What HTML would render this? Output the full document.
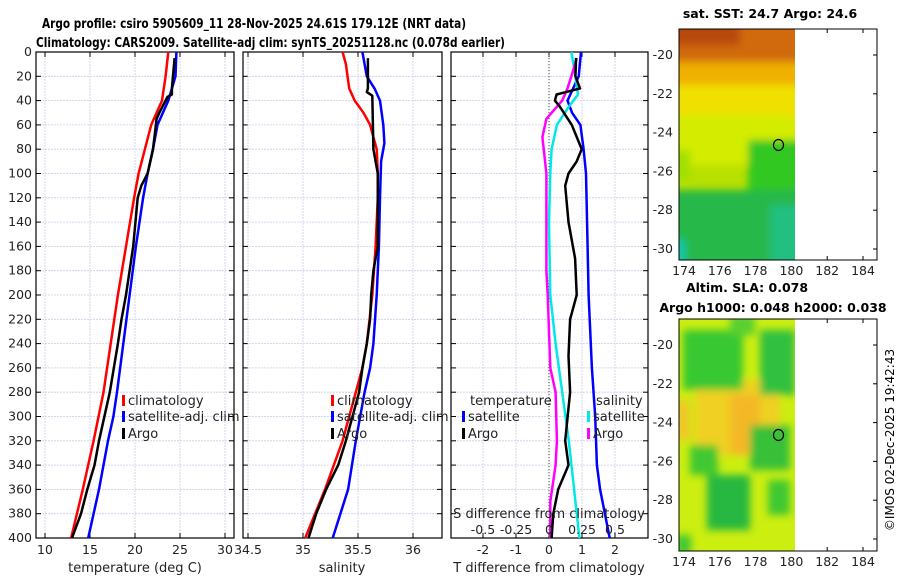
<!DOCTYPE html>
<html><head><meta charset="utf-8"><style>
body{margin:0;background:#fff;width:900px;height:580px;overflow:hidden}
svg{font-family:"DejaVu Sans","Liberation Sans",sans-serif}
</style></head><body>
<svg id="c" width="900" height="580" viewBox="0 0 900 580" xmlns="http://www.w3.org/2000/svg">
<defs>
<filter id="bl" filterUnits="userSpaceOnUse" x="640" y="0" width="200" height="580"><feGaussianBlur stdDeviation="4"/></filter>
<clipPath id="m1c"><rect x="679" y="29" width="116" height="231"/></clipPath>
<clipPath id="m2c"><rect x="679" y="319" width="116" height="232"/></clipPath>
</defs>
<text x="42" y="28" font-size="13.5" font-weight="bold" textLength="424" lengthAdjust="spacingAndGlyphs">Argo profile: csiro 5905609_11 28-Nov-2025 24.61S 179.12E (NRT data)</text>
<text x="36" y="47" font-size="13.5" font-weight="bold" textLength="469" lengthAdjust="spacingAndGlyphs">Climatology: CARS2009. Satellite-adj clim: synTS_20251128.nc (0.078d earlier)</text>
<g id="g"></g>
<g>
<text x="770" y="18" text-anchor="middle" font-size="12.5" font-weight="bold">sat. SST: 24.7 Argo: 24.6</text>
<g clip-path="url(#m1c)">
<rect x="679" y="29" width="116" height="231" fill="#b8e000"/>
<g filter="url(#bl)">
<rect x="660" y="80" width="150" height="40" fill="#f0e000"/>
<rect x="660" y="115" width="150" height="50" fill="#d4ec00"/>
<rect x="660" y="55" width="150" height="30" fill="#f0b000"/>
<rect x="660" y="20" width="150" height="42" fill="#d06a10"/>
<rect x="660" y="20" width="80" height="25" fill="#b84a08"/>
<rect x="660" y="150" width="30" height="30" fill="#a0e000"/>
<rect x="748" y="140" width="60" height="130" fill="#30c820"/>
<rect x="660" y="190" width="150" height="80" fill="#28b848"/>
<rect x="660" y="240" width="25" height="30" fill="#10c8b0"/>
<rect x="770" y="205" width="40" height="60" fill="#20c080"/>
</g>
</g>
<rect x="679" y="29" width="198" height="231" fill="none" stroke="#000"/>
<ellipse cx="778.5" cy="145" rx="5" ry="5.5" fill="none" stroke="#000" stroke-width="1.2"/>
</g>
<g>
<text x="747" y="292" text-anchor="middle" font-size="12.5" font-weight="bold">Altim. SLA: 0.078</text>
<text x="773" y="312" text-anchor="middle" font-size="12.5" font-weight="bold">Argo h1000: 0.048 h2000: 0.038</text>
<g clip-path="url(#m2c)">
<rect x="679" y="319" width="116" height="232" fill="#ccee10"/>
<g filter="url(#bl)">
<rect x="695" y="380" width="85" height="75" fill="#f0d020"/>
<rect x="730" y="395" width="30" height="60" fill="#f4b828"/>
<rect x="675" y="400" width="15" height="40" fill="#f0c828"/>
<rect x="683" y="330" width="60" height="60" fill="#38c830"/>
<rect x="760" y="330" width="35" height="65" fill="#30c040"/>
<rect x="730" y="315" width="25" height="20" fill="#58d030"/>
<rect x="707" y="475" width="43" height="55" fill="#28b840"/>
<rect x="690" y="445" width="28" height="30" fill="#40c830"/>
<rect x="750" y="425" width="40" height="45" fill="#38c038"/>
<rect x="768" y="480" width="22" height="35" fill="#40c830"/>
<rect x="676" y="535" width="15" height="20" fill="#40c830"/>
</g>
</g>
<rect x="679" y="319" width="198" height="232" fill="none" stroke="#000"/>
<ellipse cx="778.5" cy="435" rx="5" ry="5.5" fill="none" stroke="#000" stroke-width="1.2"/>
</g>
<text transform="translate(894,440) rotate(-90)" text-anchor="middle" font-size="12">©IMOS 02-Dec-2025 19:42:43</text>
</svg>
<script>
// ---- data ----
const tDepth=[0,20,40,60,80,100,120,160,200,240,280,320,360,400];
const tClim=[23.7,23.4,23.0,21.8,21.1,20.4,19.9,19.0,18.1,17.3,16.5,15.4,14.2,12.9];
const tSatDepth=[0,20,40,60,80,100,120,160,200,240,280,300,320,360,400];
const tSat=[24.6,24.5,23.7,22.5,22.0,21.4,20.9,20.1,19.4,18.7,18.0,17.6,17.0,16.0,14.8];
const tArgoDepth=[5,30,35,37,50,55,80,100,110,120,160,200,220,240,280,320,340,360,380,400];
const tArgo=[24.4,24.1,24.1,23.6,22.7,22.4,22.0,21.4,20.7,20.3,19.8,19.0,18.5,18.1,17.2,16.0,15.5,14.7,14.0,13.0];
const sClimDepth=[0,10,30,40,50,60,80,100,120,160,200,240,260,280,320,360,400];
const sClim=[35.36,35.39,35.42,35.47,35.55,35.61,35.67,35.68,35.68,35.66,35.63,35.58,35.54,35.48,35.36,35.20,35.02];
const sSatDepth=[0,20,30,40,60,75,90,120,160,200,240,260,280,320,360,400];
const sSat=[35.54,35.58,35.65,35.70,35.73,35.74,35.71,35.70,35.69,35.67,35.64,35.61,35.56,35.48,35.41,35.27];
const sArgoDepth=[5,30,33,36,80,90,100,160,180,200,220,240,260,280,320,340,360,380,400];
const sArgo=[35.59,35.59,35.58,35.63,35.64,35.66,35.68,35.68,35.64,35.62,35.61,35.58,35.54,35.51,35.39,35.32,35.21,35.12,35.05];
const dSatTDepth=[0,20,40,50,60,80,100,160,200,260,300,340,360,400];
const dSatT=[0.97,0.9,0.56,0.7,0.95,1.05,1.12,1.17,1.2,1.3,1.4,1.45,1.55,1.84];
const dArgoTDepth=[5,20,30,35,40,45,60,80,90,100,110,140,170,200,220,250,280,320,340,360,380,400];
const dArgoT=[0.82,0.8,0.94,0.23,0.18,0.33,0.69,0.99,0.84,0.59,0.49,0.59,0.79,0.84,0.64,0.59,0.64,0.49,0.59,0.28,0.13,0.08];
const dSatSDepth=[0,20,35,45,60,80,100,140,200,240,280,320,360,400];
const dSatS=[0.17,0.2,0.22,0.15,0.06,0.02,0.01,0.0,0.01,0.05,0.1,0.15,0.19,0.23];
const dArgoSDepth=[5,20,30,40,55,70,100,140,180,200,260,280,320,340,370,400];
const dArgoS=[0.21,0.17,0.14,0.1,-0.02,-0.05,-0.02,-0.02,-0.02,-0.01,0.01,0.05,0.06,0.05,0.01,0.01];
const depthTicks=[0,20,40,60,80,100,120,140,160,180,200,220,240,260,280,300,320,340,360,380,400];
const tTicks=[10,15,20,25,30];
const sTicks=[34.5,35,35.5,36];
const dTTicks=[-2,-1,0,1,2];
const dSTicks=[-0.5,-0.25,0,0.25,0.5];
const sstLatTicks=[-20,-22,-24,-26,-28,-30];
const lonTicks=[174,176,178,180,182,184];

// ---- axes ----
const NS='http://www.w3.org/2000/svg';
const G=document.getElementById('g');
const Y0=52,Y1=538;
const yD=d=>Y0+(d/400)*(Y1-Y0);
const xT=v=>45+(v-10)*9;
const xS=v=>248+(v-34.5)*110;
const xDT=v=>549+v*33;
const xDS=v=>549+v*132;
function mk(tag,attrs,parent){const e=document.createElementNS(NS,tag);for(const k in attrs)e.setAttribute(k,attrs[k]);(parent||G).appendChild(e);return e;}
function txt(s,x,y,attrs){const e=mk('text',Object.assign({x:x,y:y,'font-size':12.5,fill:'#222'},attrs||{}));e.textContent=s;return e;}

function panel(name,x0,x1,xf,ticks,labelFn,showDepth){
  const g=mk('g',{});
  
  
  depthTicks.forEach(d=>{
    const l=mk('line',{x1:x0,x2:x1,y1:yD(d),y2:yD(d),stroke:'#c8cce8','stroke-width':0.8,'stroke-dasharray':'2,1'},g);
    
    
    mk('line',{x1:x0,x2:x0+5,y1:yD(d),y2:yD(d),stroke:'#000'},g);
    mk('line',{x1:x1-5,x2:x1,y1:yD(d),y2:yD(d),stroke:'#000'},g);
    if(showDepth){const t=txt(String(d),x0-4,yD(d)+4,{'text-anchor':'end'});}
  });
  ticks.forEach(v=>{
    const X=xf(v);
    const l=mk('line',{x1:X,x2:X,y1:Y0,y2:Y1,stroke:'#c8cce8','stroke-width':0.8,'stroke-dasharray':'2,1'},g);
    
    
    mk('line',{x1:X,x2:X,y1:Y1,y2:Y1-5,stroke:'#000'},g);
    mk('line',{x1:X,x2:X,y1:Y0,y2:Y0+5,stroke:'#000'},g);
    if(labelFn){const t=txt(labelFn(v),X,Y1+16,{'text-anchor':'middle'});}
  });
  const r=mk('rect',{x:x0,y:Y0,width:x1-x0,height:Y1-Y0,fill:'none',stroke:'#000','stroke-width':1.2},g);
  
  
}
panel('temperature-panel',36,234,xT,tTicks,String,true);
panel('salinity-panel',243,442,xS,sTicks,String,false);
panel('difference-panel',451,648,xDT,dTTicks,String,false);
const zl=mk('line',{x1:xDT(0),x2:xDT(0),y1:Y0,y2:Y1,stroke:'#444','stroke-dasharray':'1,2'});



function line(name,depths,vals,xf,color){
  const pts=depths.map((d,i)=>xf(vals[i]).toFixed(1)+','+yD(d).toFixed(1)).join(' ');
  const p=mk('polyline',{points:pts,fill:'none',stroke:color,'stroke-width':2.5,'stroke-linejoin':'round'});
  
  
}
line('temp-climatology-line',tDepth,tClim,xT,'#ff0000');
line('temp-satellite-line',tSatDepth,tSat,xT,'#0000ff');
line('temp-argo-line',tArgoDepth,tArgo,xT,'#000');
line('sal-climatology-line',sClimDepth,sClim,xS,'#ff0000');
line('sal-satellite-line',sSatDepth,sSat,xS,'#0000ff');
line('sal-argo-line',sArgoDepth,sArgo,xS,'#000');
line('dT-satellite-line',dSatTDepth,dSatT,xDT,'#0000ff');
line('dS-satellite-line',dSatSDepth,dSatS,xDS,'#00e8e8');
line('dS-argo-line',dArgoSDepth,dArgoS,xDS,'#ff00ff');
line('dT-argo-line',dArgoTDepth,dArgoT,xDT,'#000');

function leg(name,x,y,color,label){
  const g=mk('g',{});
  
  
  mk('rect',{x:x,y:y-10,width:3,height:11,fill:color},g);
  const t=document.createElementNS(NS,'text');t.setAttribute('x',x+6);t.setAttribute('y',y);t.setAttribute('font-size',13);t.setAttribute('fill','#222');t.textContent=label;g.appendChild(t);
}
leg('legend-climatology',122,405,'#ff0000','climatology');
leg('legend-satellite-adj',122,421,'#0000ff','satellite-adj. clim');
leg('legend-argo',122,438,'#000','Argo');
leg('legend-sal-climatology',331,405,'#ff0000','climatology');
leg('legend-sal-satellite-adj',331,421,'#0000ff','satellite-adj. clim');
leg('legend-sal-argo',331,438,'#000','Argo');
txt('temperature',470,405,{'font-size':13});
txt('salinity',596,405,{'font-size':13});
leg('legend-dT-satellite',462,421,'#0000ff','satellite');
leg('legend-dT-argo',462,438,'#000','Argo');
leg('legend-dS-satellite',587,421,'#00e8e8','satellite');
leg('legend-dS-argo',587,438,'#ff00ff','Argo');
txt('S difference from climatology',549,518,{'text-anchor':'middle','font-size':13});
dSTicks.forEach(v=>{const t=txt(String(v),xDS(v),534,{'text-anchor':'middle'});});
txt('temperature (deg C)',135,572,{'text-anchor':'middle','font-size':13});
txt('salinity',342,572,{'text-anchor':'middle','font-size':13});
txt('T difference from climatology',549,572,{'text-anchor':'middle','font-size':13});

const lonX=v=>684+(v-174)*17.9;
function mapTicks(top,bot,latY,prefix){
  sstLatTicks.forEach(v=>{
    const Y=latY(v);
    mk('line',{x1:679,x2:683,y1:Y,y2:Y,stroke:'#000'});
    mk('line',{x1:873,x2:877,y1:Y,y2:Y,stroke:'#000'});
    const t=txt(String(v),673,Y+4,{'text-anchor':'end'});
    
    
  });
  lonTicks.forEach(v=>{
    const X=lonX(v);
    mk('line',{x1:X,x2:X,y1:bot,y2:bot-4,stroke:'#000'});
    mk('line',{x1:X,x2:X,y1:top,y2:top+4,stroke:'#000'});
    const t=txt(String(v),X,bot+15,{'text-anchor':'middle'});
    
    
  });
}
mapTicks(29,260,v=>55+(-20-v)*19.4,'sst');
mapTicks(319,551,v=>345+(-20-v)*19.4,'sla');
</script>
</body></html>
